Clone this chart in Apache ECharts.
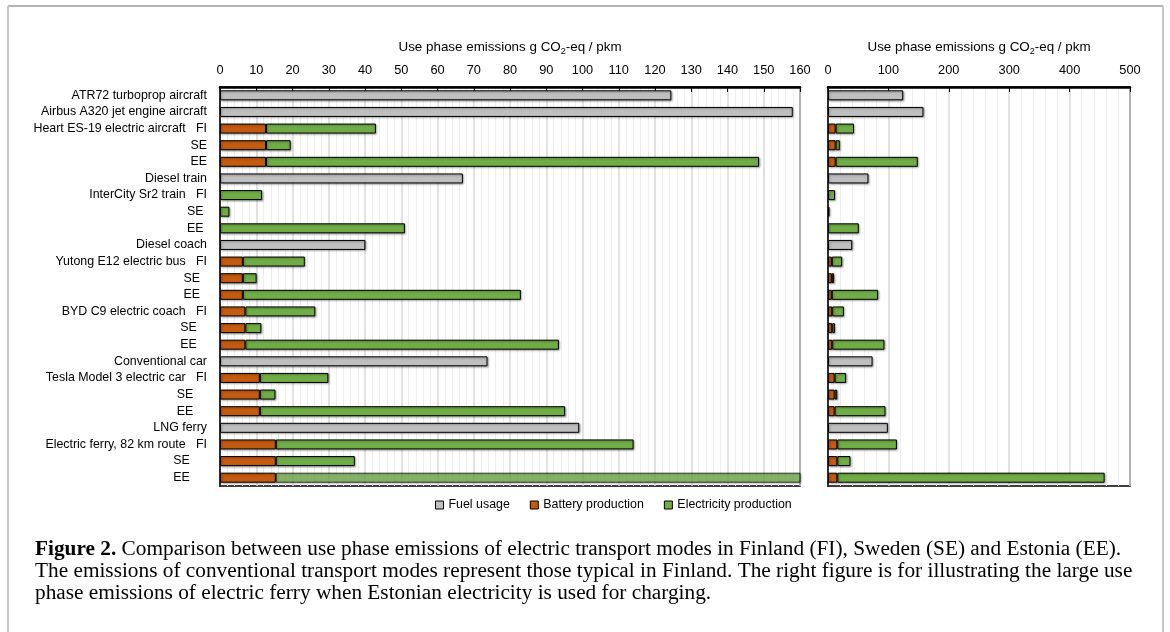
<!DOCTYPE html>
<html><head><meta charset="utf-8">
<script src="https://cdn.jsdelivr.net/npm/echarts@6/dist/echarts.min.js"></script>
<style>html,body{margin:0;padding:0;background:#fff}#c{width:1170px;height:632px}</style>
</head><body><div id="c"></div>
<script>
const categories = [
  'ATR72 turboprop aircraft',
  'Airbus A320 jet engine aircraft',
  'Heart ES-19 electric aircraft   FI', 'SE', 'EE',
  'Diesel train',
  'InterCity Sr2 train   FI', 'SE ', 'EE ',
  'Diesel coach',
  'Yutong E12 electric bus   FI', 'SE  ', 'EE  ',
  'BYD C9 electric coach   FI', 'SE   ', 'EE   ',
  'Conventional car',
  'Tesla Model 3 electric car   FI', 'SE    ', 'EE    ',
  'LNG ferry',
  'Electric ferry, 82 km route   FI', 'SE     ', 'EE     '
];
const fuelUsage =             [124.5, 158, null, null, null, 67, null, null, null, 40.1, null, null, null, null, null, null, 73.8, null, null, null, 99.1, null, null, null];
const batteryProduction =     [null, null, 12.7, 12.7, 12.7, null, null, null, null, null, 6.3, 6.3, 6.3, 7.0, 7.0, 7.0, null, 11.0, 11.0, 11.0, null, 15.4, 15.4, 15.4];
const electricityProduction = [null, null, 30.3, 6.8, 136.0, null, 11.6, 2.6, 51.0, null, 17.1, 3.8, 76.7, 19.3, 4.4, 86.5, null, 18.9, 4.3, 84.2, null, 98.7, 21.8, 442.6];
const seriesNames = ['Fuel usage', 'Battery production', 'Electricity production'];
const leftAxis = {min: 0, max: 160, interval: 10};
const rightAxis = {min: 0, max: 500, interval: 100};
const axisTitle = 'Use phase emissions g CO{sub|2}-eq / pkm';
const captionLines = [
  '{b|Figure 2.} Comparison between use phase emissions of electric transport modes in Finland (FI), Sweden (SE) and Estonia (EE).',
  'The emissions of conventional transport modes represent those typical in Finland. The right figure is for illustrating the large use',
  'phase emissions of electric ferry when Estonian electricity is used for charging.'
];

const FONT = '"Liberation Sans", Arial, sans-serif';
const FS = 12.4;
const colors = ['#bfbfbf', '#c55a11', '#70ad47'];
const valuesBySeries = [fuelUsage, batteryProduction, electricityProduction];

// caption font fit
const mctx = document.createElement('canvas').getContext('2d');
mctx.font = '19px "Liberation Serif"';
const capW = mctx.measureText(captionLines[1]).width;
const capFS = 19 * 1098 / capW;

function xAxisFor(ax, gridIndex) {
  return {
    type: 'value', gridIndex, position: 'top', min: ax.min, max: ax.max, interval: ax.interval,
    name: axisTitle, nameLocation: 'middle', nameGap: 31,
    nameTextStyle: {fontFamily: FONT, fontSize: 13.4, color: '#000',
      rich: {sub: {fontFamily: FONT, fontSize: 9, color: '#000', padding: [8, 0, 0, 0]}}},
    axisLine: {show: true, lineStyle: {color: '#000', width: 2.5}},
    axisTick: {show: true, inside: true, length: 5, lineStyle: {color: '#000', width: 1}},
    axisLabel: {fontFamily: FONT, fontSize: 12.8, color: '#000', margin: 10},
    splitLine: {show: true, lineStyle: {color: '#d9d9d9', width: 1.5}},
    minorTick: {show: false, splitNumber: 5},
    minorSplitLine: {show: true, lineStyle: {color: '#eeeeee', width: 1}}
  };
}
function yAxisFor(gridIndex, showLabels) {
  return {
    type: 'category', gridIndex, inverse: true, data: categories,
    axisLine: {show: true, lineStyle: {color: '#000', width: 1.5}},
    axisTick: {show: false},
    axisLabel: {show: showLabels, fontFamily: FONT, fontSize: FS, color: '#000', margin: 13, interval: 0},
    splitLine: {show: false}
  };
}
const series = [];
[leftAxis, rightAxis].forEach((ax, gi) => {
  valuesBySeries.forEach((vals, si) => {
    series.push({
      name: seriesNames[si], type: 'bar', stack: 'g' + gi, xAxisIndex: gi, yAxisIndex: gi,
      barWidth: 10,
      itemStyle: {color: colors[si], borderColor: '#000', borderWidth: 1,
        shadowColor: 'rgba(0,0,0,0.35)', shadowBlur: 2, shadowOffsetX: 1, shadowOffsetY: 1},
      data: vals.map((v, i) => {
        if (v == null) return '-';
        let start = 0;
        for (let k = 0; k < si; k++) start += (valuesBySeries[k][i] || 0);
        if (start + v > ax.max) {
          return {value: v, itemStyle: {opacity: 0.72}};
        }
        return v;
      }),
      clip: true
    });
  });
});

const chart = echarts.init(document.getElementById('c'));
chart.setOption({
  animation: false,
  grid: [
    {left: 220, right: 370, top: 87, bottom: 146, show: true, borderColor: '#000', borderWidth: 1.5, containLabel: false},
    {left: 828, right: 40, top: 87, bottom: 146, show: true, borderColor: '#000', borderWidth: 1.5, containLabel: false}
  ],
  xAxis: [xAxisFor(leftAxis, 0), xAxisFor(rightAxis, 1)],
  yAxis: [yAxisFor(0, true), yAxisFor(1, false)],
  legend: {
    data: seriesNames, left: 430, top: 494, icon: 'rect', itemWidth: 8, itemHeight: 8, itemGap: 20,
    textStyle: {fontFamily: FONT, fontSize: FS, color: '#000'},
    itemStyle: {borderColor: '#000', borderWidth: 1, shadowBlur: 0, shadowOffsetX: 0, shadowOffsetY: 0}
  },
  series,
  graphic: [
    {type: 'line', shape: {x1: 8, y1: 6, x2: 1163, y2: 6}, style: {stroke: '#9a9a9a', lineWidth: 1.5}, silent: true},
    {type: 'line', shape: {x1: 8, y1: 6, x2: 8, y2: 632}, style: {stroke: '#c8c8c8', lineWidth: 2}, silent: true},
    {type: 'line', shape: {x1: 1163, y1: 6, x2: 1163, y2: 632}, style: {stroke: '#c8c8c8', lineWidth: 2}, silent: true}
  ].concat(captionLines.map((t, i) => ({
    type: 'text', x: 35, y: 549 + i * 22, silent: true,
    style: {text: t, fontFamily: '"Liberation Serif", serif', fontSize: capFS, fill: '#000',
      verticalAlign: 'middle', align: 'left',
      rich: {b: {fontFamily: '"Liberation Serif", serif', fontSize: capFS, fontWeight: 'bold', fill: '#000'}}}
  })))
});
</script></body></html>
